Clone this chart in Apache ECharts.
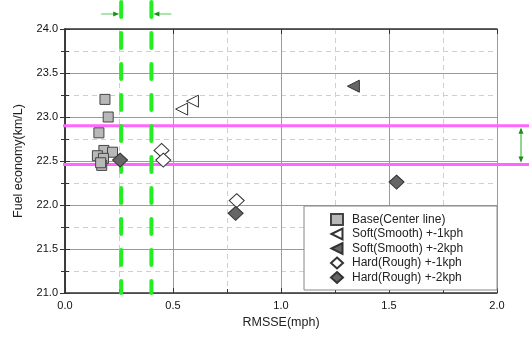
<!DOCTYPE html>
<html><head><meta charset="utf-8">
<script src="https://cdn.jsdelivr.net/npm/echarts@6/dist/echarts.min.js"></script>
<style>html,body{margin:0;padding:0;background:#fff}#c{width:529px;height:339px}</style>
</head><body><div id="c"></div>
<script>
var xTicks = [0.0, 0.5, 1.0, 1.5, 2.0];
var yTicks = [21.0, 21.5, 22.0, 22.5, 23.0, 23.5, 24.0];
var baseCenter = [[0.185,23.20],[0.20,23.00],[0.157,22.82],[0.18,22.62],[0.22,22.60],[0.15,22.56],[0.178,22.53],[0.17,22.45],[0.165,22.48]];
var soft1 = [[0.54,23.09],[0.59,23.18]];
var soft2 = [[1.335,23.35]];
var hard1 = [[0.447,22.62],[0.455,22.51],[0.795,22.05]];
var hard2 = [[0.255,22.51],[0.79,21.905],[1.535,22.26]];
var pinkLines = [22.90, 22.46];
var greenLines = [0.26, 0.40];
var seriesNames = ['Base(Center line)','Soft(Smooth) +-1kph','Soft(Smooth) +-2kph','Hard(Rough) +-1kph','Hard(Rough) +-2kph'];

var tri = 'path://M0,5L10,0L10,10Z';
var chart = echarts.init(document.getElementById('c'));
var font = 'Liberation Sans, Arial, sans-serif';
function axisCommon(){
  return {
    axisLine:{show:true,lineStyle:{color:'#333',width:1.5}},
    axisTick:{show:true,inside:true,length:5,lineStyle:{color:'#333'}},
    minorTick:{show:true,splitNumber:2,length:4,lineStyle:{color:'#333'}},
  };
}
var greenDark = '#1a8f1a';
function arrowHead(x,y,dx,dy,color){
  var L=6,W=2.5;
  var bx=x-dx*L, by=y-dy*L;
  return {type:'polygon',shape:{points:[[x,y],[bx-dy*W,by+dx*W],[bx+dy*W,by-dx*W]]},style:{fill:color},silent:true};
}
var option = {
  animation:false,
  backgroundColor:'#fff',
  grid:{left:65,right:32,top:29,bottom:46,show:false},
  xAxis:[Object.assign({
    type:'value',min:xTicks[0],max:xTicks[xTicks.length-1],interval:0.5,position:'bottom',
    name:'RMSSE(mph)',nameLocation:'middle',nameGap:23,
    nameTextStyle:{fontFamily:font,fontSize:12.5,color:'#222'},
    axisLabel:{fontFamily:font,fontSize:11,color:'#111',margin:7,formatter:function(v){return v.toFixed(1);}},
    splitLine:{show:true,lineStyle:{color:'#9a9a9a',width:1}},
    minorSplitLine:{show:true,lineStyle:{color:'#cfcfcf',type:[5,4],width:1}}
  },axisCommon()),
  Object.assign({type:'value',min:0,max:2,interval:0.5,position:'top',axisLabel:{show:false},splitLine:{show:false}},axisCommon(),{minorTick:{show:false}})],
  yAxis:[Object.assign({
    type:'value',min:yTicks[0],max:yTicks[yTicks.length-1],interval:0.5,position:'left',
    name:'Fuel economy(km/L)',nameLocation:'middle',nameGap:40,
    nameTextStyle:{fontFamily:font,fontSize:12.5,color:'#222'},
    axisLabel:{fontFamily:font,fontSize:11,color:'#111',margin:7,formatter:function(v){return v.toFixed(1);}},
    splitLine:{show:true,lineStyle:{color:'#9a9a9a',width:1}},
    minorSplitLine:{show:true,lineStyle:{color:'#cfcfcf',type:[5,4],width:1}}
  },axisCommon()),
  Object.assign({type:'value',min:21,max:24,interval:0.5,position:'right',axisLabel:{show:false},splitLine:{show:false}},axisCommon())],
  legend:{
    orient:'vertical',left:304,top:206,
    padding:[7,34,6,26],itemGap:1.5,itemWidth:12,itemHeight:11,
    backgroundColor:'#fff',borderColor:'#888',borderWidth:1,
    textStyle:{fontFamily:font,fontSize:12,color:'#222',padding:[0,0,0,4]},
    data:seriesNames
  },
  series:[
    {name:'pink',type:'custom',coordinateSystem:'cartesian2d',clip:false,silent:true,z:3,
     data:pinkLines.map(function(v){return [0,v];}),
     renderItem:function(params,api){
       var p=api.coord([0,api.value(1)]);
       var children=[{type:'line',shape:{x1:63,y1:p[1],x2:api.getWidth(),y2:p[1]},style:{stroke:'#ff66ff',lineWidth:3}}];
       if(params.dataIndex===0){
         var a=api.coord([2,pinkLines[0]]), b=api.coord([2,pinkLines[1]]);
         var ax=a[0]+24;
         children.push({type:'line',shape:{x1:ax,y1:a[1]+3,x2:ax,y2:b[1]-3},style:{stroke:'#22aa22',lineWidth:1}});
         children.push(arrowHead(ax,a[1]+2,0,-1,greenDark));
         children.push(arrowHead(ax,b[1]-2,0,1,greenDark));
       }
       return {type:'group',children:children};
     }},
    {name:'green',type:'custom',coordinateSystem:'cartesian2d',clip:false,silent:true,z:4,
     data:greenLines.map(function(v){return [v,21];}),
     renderItem:function(params,api){
       var p=api.coord([api.value(0),21]);
       var children=[{type:'line',shape:{x1:p[0],y1:2,x2:p[0],y2:p[1]},style:{stroke:'#22ee22',lineWidth:4,lineDash:[15,16],lineCap:'round'}}];
       var y=14;
       if(params.dataIndex===0){
         children.push({type:'line',shape:{x1:p[0]-20,y1:y,x2:p[0]-6,y2:y},style:{stroke:'#55cc55',lineWidth:1}});
         children.push(arrowHead(p[0]-2,y,1,0,greenDark));
       } else {
         children.push({type:'line',shape:{x1:p[0]+20,y1:y,x2:p[0]+6,y2:y},style:{stroke:'#55cc55',lineWidth:1}});
         children.push(arrowHead(p[0]+2,y,-1,0,greenDark));
       }
       return {type:'group',children:children};
     }},
    {name:seriesNames[0],type:'scatter',symbol:'rect',symbolSize:10,data:baseCenter,z:5,
     itemStyle:{color:'#b8b8b8',borderColor:'#444',borderWidth:1,opacity:1}},
    {name:seriesNames[1],type:'scatter',symbol:tri,symbolSize:[12,12],data:soft1,z:5,
     itemStyle:{color:'#fff',borderColor:'#333',borderWidth:1,opacity:1}},
    {name:seriesNames[2],type:'scatter',symbol:tri,symbolSize:[12,12],data:soft2,z:5,
     itemStyle:{color:'#666',borderColor:'#333',borderWidth:1,opacity:1}},
    {name:seriesNames[3],type:'scatter',symbol:'diamond',symbolSize:[15,14],data:hard1,z:5,
     itemStyle:{color:'#fff',borderColor:'#333',borderWidth:1,opacity:1}},
    {name:seriesNames[4],type:'scatter',symbol:'diamond',symbolSize:[15,14],data:hard2,z:5,
     itemStyle:{color:'#666',borderColor:'#333',borderWidth:1,opacity:1}}
  ]
};
chart.setOption(option);
</script></body></html>
